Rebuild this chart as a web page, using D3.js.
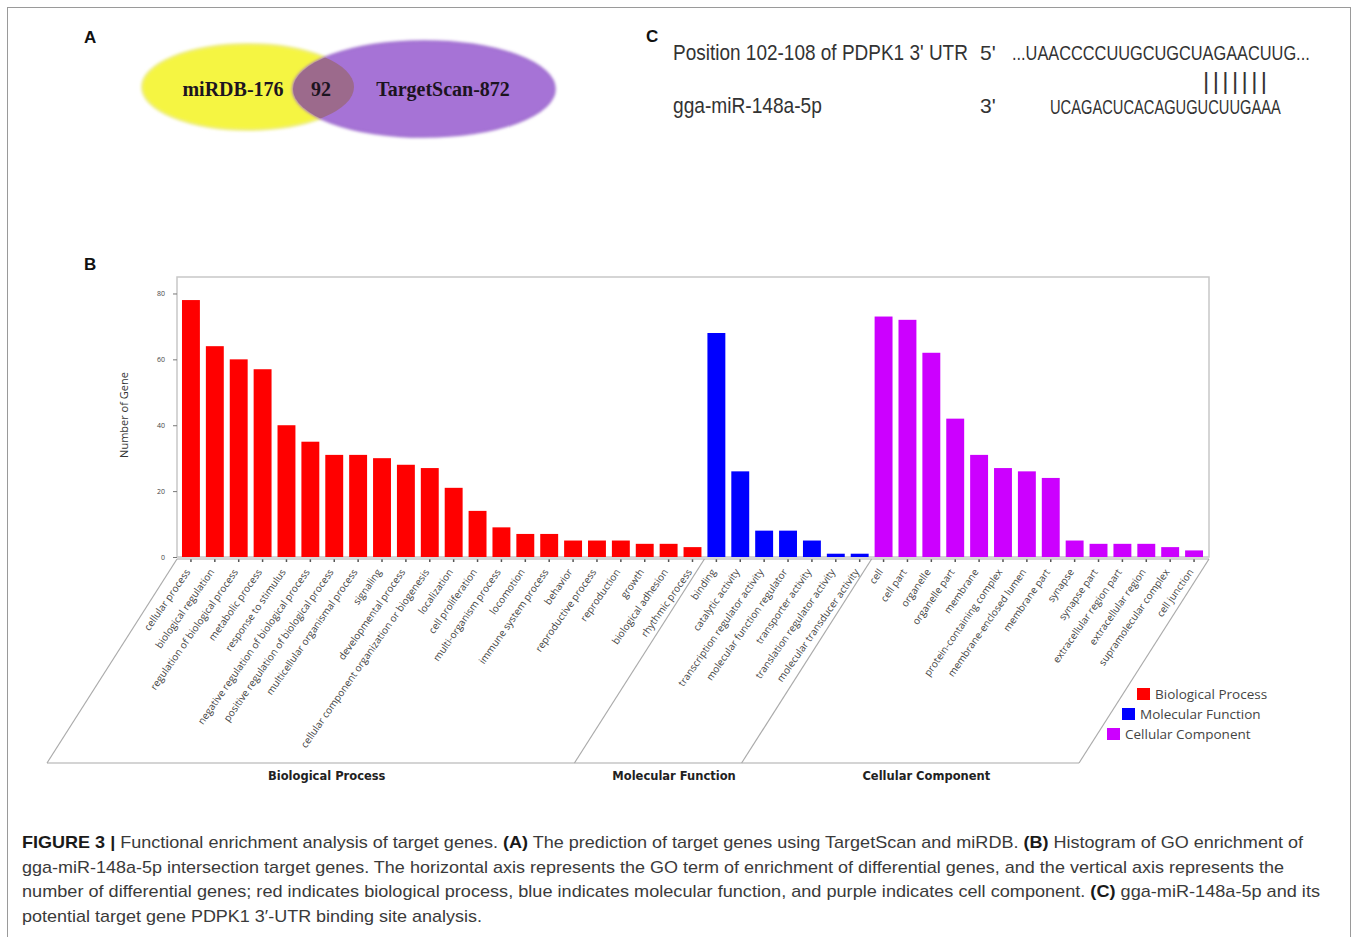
<!DOCTYPE html>
<meta charset="utf-8">
<style>
body { margin: 0; background: #fff; }
svg { display: block; }
.tick text { font-family: "Open Sans", sans-serif; fill: #444; }
</style>
<script src="https://d3js.org/d3.v7.min.js"></script>
<body>
<svg id="fig" width="1357" height="937"></svg>
<script>

// ---- data ----
var bpTerms = ["cellular process", "biological regulation", "regulation of biological process",
  "metabolic process", "response to stimulus", "negative regulation of biological process",
  "positive regulation of biological process", "multicellular organismal process", "signaling",
  "developmental process", "cellular component organization or biogenesis", "localization",
  "cell proliferation", "multi-organism process", "locomotion", "immune system process",
  "behavior", "reproductive process", "reproduction", "growth", "biological adhesion",
  "rhythmic process"];
var bpCounts = [78, 64, 60, 57, 40, 35, 31, 31, 30, 28, 27, 21, 14, 9, 7, 7, 5, 5, 5, 4, 4, 3];

var mfTerms = ["binding", "catalytic activity", "transcription regulator activity",
  "molecular function regulator", "transporter activity", "translation regulator activity",
  "molecular transducer activity"];
var mfCounts = [68, 26, 8, 8, 5, 1, 1];

var ccTerms = ["cell", "cell part", "organelle", "organelle part", "membrane",
  "protein-containing complex", "membrane-enclosed lumen", "membrane part", "synapse",
  "synapse part", "extracellular region part", "extracellular region",
  "supramolecular complex", "cell junction"];
var ccCounts = [73, 72, 62, 42, 31, 27, 26, 24, 5, 4, 4, 4, 3, 2];

var groupNames = ["Biological Process", "Molecular Function", "Cellular Component"];
var groupColors = ["#ff0000", "#0000ff", "#cc00ff"];
var yTicks = [0, 20, 40, 60, 80];

var vennNames = ["miRDB", "TargetScan"];
var vennSizes = [176, 872];
var vennOverlap = 92;

var utrLabel = "Position 102-108 of PDPK1 3' UTR";
var utrSeq = "...UAACCCCUUGCUGCUAGAACUUG...";
var mirLabel = "gga-miR-148a-5p";
var mirSeq = "UCAGACUCACAGUGUCUUGAAA";

// -------------------------------------

var svg = d3.select("#fig");

svg.append("rect")
    .attr("x", 7.5).attr("y", 7.5).attr("width", 1343).attr("height", 945)
    .attr("fill", "none").attr("stroke", "#9a9a9a").attr("stroke-width", 1);

function panelLabel(t, x, y) {
  svg.append("text").attr("x", x).attr("y", y).text(t)
      .attr("font-family", "Liberation Sans, Arial, sans-serif")
      .attr("font-weight", "bold").attr("font-size", 17).attr("fill", "#111");
}
panelLabel("A", 84, 43);
panelLabel("B", 84, 270);
panelLabel("C", 646, 42);

// ---- panel A : venn ----
var defs = svg.append("defs");
defs.append("filter").attr("id", "soft")
  .append("feGaussianBlur").attr("stdDeviation", 1.4);
defs.append("clipPath").attr("id", "clipY")
  .append("ellipse").attr("cx", 248).attr("cy", 87).attr("rx", 106).attr("ry", 43);

var venn = svg.append("g");
venn.append("ellipse").attr("cx", 248).attr("cy", 87).attr("rx", 106).attr("ry", 43)
    .attr("fill", "#f5f542").attr("stroke", "#ecec80").attr("stroke-width", 2)
    .attr("filter", "url(#soft)");
venn.append("ellipse").attr("cx", 424).attr("cy", 89).attr("rx", 131).attr("ry", 48)
    .attr("fill", "#a673d6").attr("stroke", "#9a66cc").attr("stroke-width", 1.5)
    .attr("filter", "url(#soft)");
venn.append("g").attr("clip-path", "url(#clipY)")
  .append("ellipse").attr("cx", 424).attr("cy", 89).attr("rx", 131).attr("ry", 48)
    .attr("fill", "#9c6a8c");

var vennText = [
  { t: vennNames[0] + "-" + vennSizes[0], x: 233 },
  { t: String(vennOverlap), x: 321 },
  { t: vennNames[1] + "-" + vennSizes[1], x: 443 }
];
venn.selectAll("text.vn").data(vennText).enter().append("text")
    .attr("class", "vn")
    .attr("x", function(d) { return d.x; }).attr("y", 96)
    .attr("text-anchor", "middle")
    .attr("font-family", "Liberation Serif, Times New Roman, serif")
    .attr("font-weight", "bold").attr("font-size", 20).attr("fill", "#1c1420")
    .text(function(d) { return d.t; });

// ---- panel C : binding site ----
// condensed look: squeeze each run horizontally to the width seen in the figure
var pc = svg.append("g").attr("fill", "#333")
    .attr("font-family", "Liberation Sans, Arial, sans-serif");

function squeezed(str, x0, y0, size, width) {
  var t = pc.append("text").attr("font-size", size).text(str);
  var sx = width ? width / t.node().getComputedTextLength() : 1;
  t.attr("transform", "translate(" + x0 + "," + y0 + ") scale(" + sx + ",1)");
  return t;
}
squeezed(utrLabel, 673, 60, 22, 295);
squeezed("5'", 980, 60, 21, 0);
squeezed(utrSeq, 1012, 60, 20, 298);
squeezed("|||||||", 1203, 89, 24, 0).attr("letter-spacing", 3.4);
squeezed(mirLabel, 673, 113, 22, 149);
squeezed("3'", 980, 113, 21, 0);
squeezed(mirSeq, 1050, 114, 20, 231);

// ---- panel B : GO histogram ----
var rows = [];
[[bpTerms, bpCounts], [mfTerms, mfCounts], [ccTerms, ccCounts]].forEach(function(g, gi) {
  g[0].forEach(function(t, i) { rows.push({ term: t, n: g[1][i], group: gi }); });
});

var plotL = 177, plotR = 1209, plotT = 277, plotB = 557;

var x = d3.scaleBand()
    .domain(rows.map(function(d) { return d.term; }))
    .range([179, 1206])
    .paddingInner(0.25)
    .paddingOuter(0.125);

var y = d3.scaleLinear().domain([0, 85]).range([plotB, plotT]);

var chart = svg.append("g");

// plot frame
chart.append("path")
    .attr("d", "M" + plotL + "," + plotB + "V" + plotT + "H" + plotR + "V" + plotB + "Z")
    .attr("fill", "none").attr("stroke", "#c8c8c8").attr("stroke-width", 1.5);

// bars
chart.selectAll("rect.bar").data(rows).enter().append("rect")
    .attr("class", "bar")
    .attr("x", function(d) { return x(d.term); })
    .attr("width", x.bandwidth())
    .attr("y", function(d) { return y(d.n); })
    .attr("height", function(d) { return plotB - y(d.n); })
    .attr("fill", function(d) { return groupColors[d.group]; });

// y axis
var yAxis = chart.append("g")
    .attr("transform", "translate(" + plotL + ",0)")
    .call(d3.axisLeft(y).tickValues(yTicks).tickSize(4).tickPadding(8));
yAxis.select(".domain").remove();
yAxis.selectAll("line").attr("stroke", "#777");
yAxis.selectAll("text").attr("font-size", 7).attr("fill", "#555");

chart.append("text")
    .attr("transform", "translate(128,415) rotate(-90)")
    .attr("text-anchor", "middle")
    .attr("font-family", "Open Sans, sans-serif").attr("font-size", 11).attr("fill", "#333")
    .text("Number of Gene");

// x axis ticks + slanted term labels
var xAxis = chart.append("g")
    .attr("transform", "translate(0," + (plotB + 2) + ")")
    .call(d3.axisBottom(x).tickSize(3).tickPadding(0));
xAxis.select(".domain").remove();
xAxis.selectAll("line").attr("stroke", "#555").attr("stroke-width", 1.5);
xAxis.selectAll("text")
    .attr("font-size", 10)
    .attr("y", 0).attr("dy", "0.35em")
    .attr("text-anchor", "end")
    .attr("transform", "translate(-3,11) rotate(-55)");

// parallelogram under the axis, split by category group
var topY = plotB + 2, botY = 763, skew = -130;
var bounds = [plotL];
[bpTerms.length, bpTerms.length + mfTerms.length].forEach(function(k) {
  bounds.push(x(rows[k].term) - x.step() * x.paddingInner() / 2);
});
bounds.push(plotR);

var frame = chart.append("g").attr("stroke", "#aaa").attr("stroke-width", 1.2).attr("fill", "none");
frame.append("line").attr("x1", plotL).attr("y1", topY).attr("x2", plotR).attr("y2", topY);
frame.append("line").attr("x1", plotL + skew).attr("y1", botY).attr("x2", plotR + skew).attr("y2", botY);
frame.selectAll("line.div").data(bounds).enter().append("line")
    .attr("class", "div")
    .attr("x1", function(d) { return d; }).attr("y1", topY)
    .attr("x2", function(d) { return d + skew; }).attr("y2", botY);

chart.selectAll("text.grp").data(groupNames).enter().append("text")
    .attr("class", "grp")
    .attr("x", function(d, i) { return (bounds[i] + bounds[i + 1]) / 2 + skew + 16; })
    .attr("y", 780)
    .attr("text-anchor", "middle")
    .attr("font-family", "DejaVu Sans, Verdana, sans-serif")
    .attr("font-weight", "bold").attr("font-size", 11.5).attr("fill", "#222")
    .text(function(d) { return d; });

// legend, stepped along the slanted edge
var legend = chart.selectAll("g.leg").data(groupNames).enter().append("g")
    .attr("class", "leg")
    .attr("transform", function(d, i) { return "translate(" + (1137 - 15 * i) + "," + (688 + 20 * i) + ")"; });
legend.append("rect").attr("width", 13).attr("height", 12)
    .attr("fill", function(d, i) { return groupColors[i]; });
legend.append("text").attr("x", 18).attr("y", 6).attr("dy", "0.35em")
    .attr("font-family", "Open Sans, sans-serif").attr("font-size", 13.5).attr("fill", "#444")
    .text(function(d) { return d; });

// ---- caption ----
var capLines = [
  { w: 1281, parts: [["FIGURE 3 | ", 1], ["Functional enrichment analysis of target genes. ", 0], ["(A)", 1],
      [" The prediction of target genes using TargetScan and miRDB. ", 0], ["(B)", 1], [" Histogram of GO enrichment of", 0]] },
  { w: 1262, parts: [["gga-miR-148a-5p intersection target genes. The horizontal axis represents the GO term of enrichment of differential genes, and the vertical axis represents the", 0]] },
  { w: 1298, parts: [["number of differential genes; red indicates biological process, blue indicates molecular function, and purple indicates cell component. ", 0], ["(C)", 1], [" gga-miR-148a-5p and its", 0]] },
  { w: 460, parts: [["potential target gene PDPK1 3\u2032-UTR binding site analysis.", 0]] }
];
var cap = svg.append("g").attr("font-family", "Liberation Sans, Arial, sans-serif").attr("font-size", 17);
capLines.forEach(function(l, i) {
  var t = cap.append("text").attr("x", 22).attr("y", 848 + i * 24.7)
      .attr("textLength", l.w).attr("lengthAdjust", "spacingAndGlyphs")
      .attr("xml:space", "preserve");
  l.parts.forEach(function(p) {
    t.append("tspan").text(p[0])
        .attr("font-weight", p[1] ? "bold" : "normal")
        .attr("fill", p[1] ? "#1a1a1a" : "#3a3a3a");
  });
});

</script>
</body>
